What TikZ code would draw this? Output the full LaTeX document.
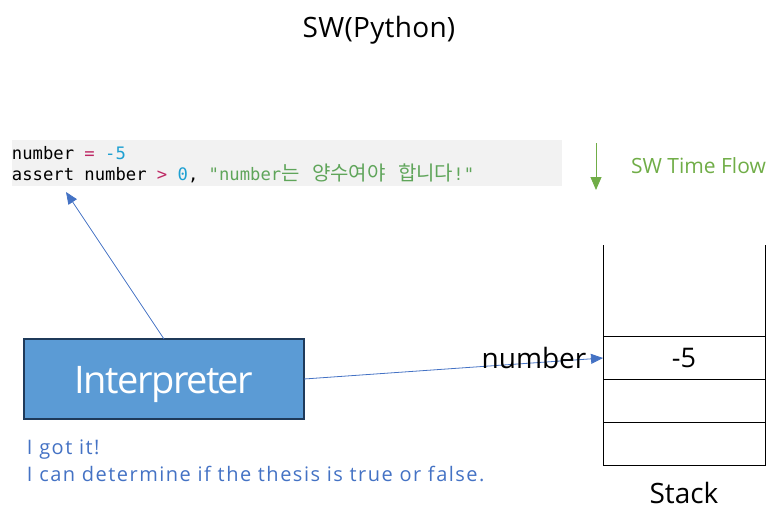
\documentclass[tikz,border=0pt]{standalone}
\usepackage{fontspec}
\setmainfont{Open Sans}
\setmonofont{DejaVu Sans Mono}
\newfontfamily\krfont{Noto Sans CJK KR}
\usepackage{xcolor}
\usetikzlibrary{arrows.meta,positioning}

\definecolor{interpblue}{RGB}{91,155,213}
\definecolor{interpedge}{RGB}{31,58,90}
\definecolor{noteblue}{RGB}{68,114,196}
\definecolor{flowgreen}{RGB}{112,173,71}
\definecolor{codegray}{RGB}{242,242,242}
\definecolor{codeop}{RGB}{190,40,100}
\definecolor{codenum}{RGB}{30,160,210}
\definecolor{codestr}{RGB}{95,165,90}

\newcommand{\fsz}[1]{\fontsize{#1}{#1}\selectfont}

\begin{document}
\begin{tikzpicture}[x=1pt,y=-1pt,
  every node/.style={inner sep=0pt,outer sep=0pt},
  cell/.style={draw,line width=1pt,minimum width=162pt,minimum height=43pt,font=\fsz{27}},
  link/.style={draw=noteblue,line width=0.8pt,-{Triangle[length=12pt,width=10pt]}}]
  \useasboundingbox (0,0) rectangle (782,527);

  \node[anchor=base] (title) at (379,38) {\fsz{28}\addfontfeature{LetterSpace=1}SW(Python)};

  % code
  \node[fill=codegray,minimum width=550pt,minimum height=46pt,anchor=north west] (code) at (12,140) {};
  \node[anchor=west,align=left,font=\ttfamily\fontsize{17.2}{21}\selectfont] (src) at (12,165)
    {number {\color{codeop}=} {\color{codenum}-5}\\
     assert number {\color{codeop}>} {\color{codenum}0}, {\color{codestr}"number{\krfont\fontsize{20}{21}\selectfont 는\hspace{8pt} 양수여야\hspace{8pt} 합니다}!"}};

  % time flow
  \coordinate (flowtop) at (596,143);
  \coordinate (flowend) at (596,190);
  \draw[flowgreen,line width=1pt,-{Triangle[length=13pt,width=11pt]}] (flowtop) -- (flowend);
  \node[anchor=west,text=flowgreen,font=\fsz{21}] (flow) at (631,166) {SW Time Flow};

  % stack
  \node[cell] (s1) at (684,358) {-5};
  \node[cell,below=0pt of s1] (s2) {};
  \node[cell,below=0pt of s2] (s3) {};
  \draw[line width=1pt] (s1.north west) -- ++(0,-92) (s1.north east) -- ++(0,-92);
  \node[anchor=base,font=\fsz{28}] (stacklbl) at (684,503) {Stack};

  % interpreter
  \node[fill=interpblue,draw=interpedge,line width=2pt,minimum width=280pt,minimum height=80pt] (interp) at (164,379) {};
  \node[anchor=base,text=white,font=\fsz{38}\addfontfeature{LetterSpace=-4}] (interplbl) at (164,393) {Interpreter};
  \node[anchor=base west,align=left,text=noteblue,font=\fontsize{20}{27}\selectfont\addfontfeature{LetterSpace=7.5}] (note)
    at (27,481) {I got it!\\I can determine if the thesis is true or false.};

  \coordinate (codetip) at (66,192);
  \draw[link] (interp.north) -- (codetip);
  \draw[link] (interp.east) -- (s1.west);
  \node[font=\fsz{28}] (varlbl) at (534,358) {number};
\end{tikzpicture}
\end{document}
